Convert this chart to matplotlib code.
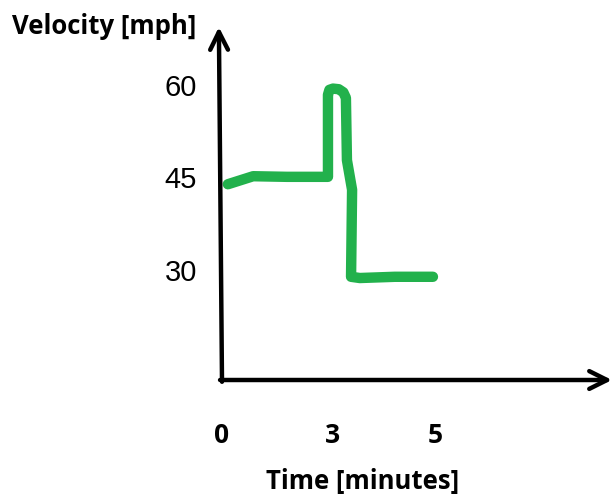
import numpy as np
import matplotlib
matplotlib.use('Agg')
import matplotlib.pyplot as plt

# hand-drawn velocity trace (time in minutes, velocity in mph)
time_min = [0.16, 0.85, 1.77, 2.89, 2.89, 2.93, 3.02, 3.13, 3.22, 3.27, 3.29,
            3.39, 3.37, 3.54, 4.22, 4.96]
velocity = [43.9, 45.2, 45.1, 45.1, 58.4, 59.2, 59.4, 59.3, 58.8, 57.9, 47.8,
            43.0, 28.9, 28.7, 28.9, 28.9]

x_ticks = [0, 3, 5]
x_tick_labels = ['0', '3', '5']
y_ticks = [30, 45, 60]
y_tick_labels = ['30', '45', '60']


# the sketch is not evenly spaced in x: 0-3 is narrower than 3-5
def fwd(x):
    x = np.asarray(x, dtype=float)
    return np.where(x < 3, x * 110 / 3, 110 + (x - 3) * 103 / 2)


def inv(p):
    p = np.asarray(p, dtype=float)
    return np.where(p < 110, p * 3 / 110, 3 + (p - 110) * 2 / 103)


W, H = 616, 494
fig = plt.figure(figsize=(W / 100, H / 100), dpi=100)
ax = fig.add_axes([222 / W, (H - 380) / H, (612 - 222) / W, (380 - 27) / H])

ax.set_xscale('function', functions=(fwd, inv))
ax.plot(time_min, velocity, color='#22b14c', lw=7.5,
        solid_capstyle='round', solid_joinstyle='round')

ax.set_xlim(0, float(inv(612 - 222)))
ax.set_ylim(30 - (380 - 270) / 6.17, 30 + (270 - 27) / 6.17)

for s in ax.spines.values():
    s.set_visible(False)

ax.set_xticks(x_ticks)
ax.set_xticklabels(x_tick_labels, fontfamily='Open Sans', fontweight='bold',
                   fontsize=19)
ax.set_yticks(y_ticks)
ax.set_yticklabels(y_tick_labels, fontfamily='Liberation Sans', fontsize=21)
ax.tick_params(axis='x', length=0, pad=30)
ax.tick_params(axis='y', length=0, pad=18)

# axis arrows
arrow = dict(arrowstyle='->', lw=3.2, color='black', mutation_scale=32,
             shrinkA=0, shrinkB=0)
ax.annotate('', xy=(1.0, 0), xytext=(-0.005, 0), xycoords='axes fraction',
            arrowprops=arrow)
ax.annotate('', xy=(-0.008, 1.0), xytext=(0, -0.005), xycoords='axes fraction',
            arrowprops=arrow)

fig.text(12 / W, 1 - 26 / H, 'Velocity [mph]', fontfamily='Open Sans',
         fontweight='bold', fontsize=18.5, ha='left', va='center')
fig.text(363 / W, 1 - 481 / H, 'Time [minutes]', fontfamily='Open Sans',
         fontweight='bold', fontsize=18.5, ha='center', va='center')

fig.savefig('out.png', dpi=100, facecolor='white')
